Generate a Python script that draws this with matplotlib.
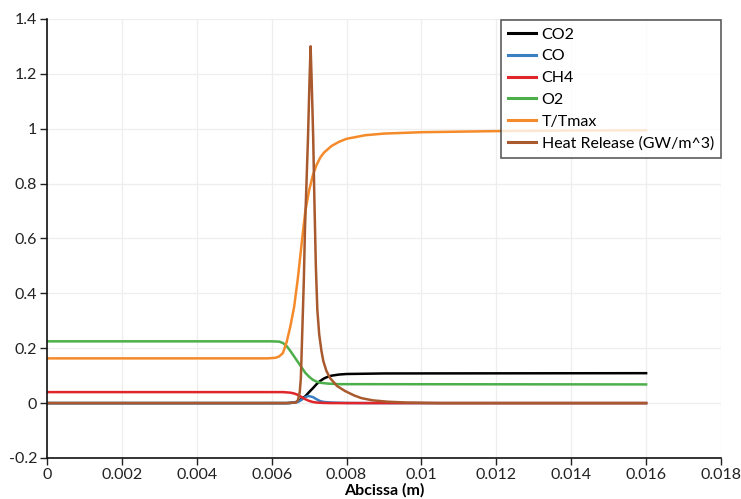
import matplotlib
matplotlib.use("Agg")
import matplotlib.pyplot as plt

# Flame profile along the abscissa (m)
x_co2 = [0.0, 0.0064, 0.0066, 0.0067, 0.0068, 0.0069, 0.0070, 0.0071, 0.0072, 0.0073, 0.0074,
         0.0075, 0.0076, 0.0078, 0.0080, 0.0090, 0.016]
co2 = [0.0, 0.0, 0.002, 0.006, 0.015, 0.025, 0.040, 0.054, 0.069, 0.081, 0.090,
       0.096, 0.100, 0.104, 0.106, 0.108, 0.109]

x_co = [0.0, 0.0065, 0.0067, 0.0068, 0.0069, 0.00698, 0.0071, 0.0072, 0.0073, 0.0074, 0.0076,
        0.0080, 0.0085, 0.016]
co = [0.0, 0.0, 0.004, 0.012, 0.022, 0.026, 0.022, 0.014, 0.007, 0.004, 0.002,
      0.0005, 0.0, 0.0]

x_ch4 = [0.0, 0.0063, 0.0065, 0.0066, 0.0067, 0.0068, 0.0069, 0.0070, 0.0071, 0.0072, 0.0074,
         0.0076, 0.016]
ch4 = [0.040, 0.040, 0.038, 0.035, 0.030, 0.022, 0.014, 0.008, 0.004, 0.002, 0.0005,
       0.0, 0.0]

x_o2 = [0.0, 0.0060, 0.0062, 0.0063, 0.0064, 0.0065, 0.0066, 0.0067, 0.0068, 0.0069, 0.0070,
        0.0071, 0.0072, 0.0073, 0.0075, 0.0078, 0.016]
o2 = [0.225, 0.225, 0.224, 0.219, 0.208, 0.190, 0.170, 0.150, 0.130, 0.110, 0.096,
      0.085, 0.078, 0.074, 0.071, 0.069, 0.068]

x_t = [0.0, 0.0059, 0.0061, 0.0062, 0.0063, 0.0064, 0.0065, 0.0066, 0.0067, 0.0068, 0.0069,
       0.0070, 0.0071, 0.0072, 0.0073, 0.0074, 0.0076, 0.0078, 0.0080, 0.0085, 0.0090,
       0.0100, 0.0110, 0.0120, 0.0140, 0.016]
t_norm = [0.163, 0.163, 0.165, 0.170, 0.182, 0.222, 0.280, 0.350, 0.455, 0.580, 0.700,
          0.775, 0.830, 0.868, 0.895, 0.913, 0.937, 0.952, 0.963, 0.976, 0.982,
          0.987, 0.989, 0.991, 0.993, 0.994]

x_hr = [0.0, 0.0064, 0.00665, 0.0067, 0.00675, 0.00678, 0.00682, 0.00686, 0.00689, 0.00693,
        0.00697, 0.00701, 0.00704, 0.00707, 0.00711, 0.00714, 0.00718, 0.00722, 0.00727,
        0.00733, 0.00738, 0.00746, 0.00756, 0.00775, 0.00796, 0.0082, 0.0084, 0.0087,
        0.0091, 0.0096, 0.0105, 0.016]
heat_release = [0.0, 0.0, 0.002, 0.010, 0.040, 0.090, 0.270, 0.450, 0.636, 0.800,
                0.964, 1.170, 1.300, 1.170, 0.964, 0.750, 0.500, 0.340, 0.250,
                0.190, 0.153, 0.118, 0.091, 0.062, 0.044, 0.028, 0.018, 0.010,
                0.005, 0.002, 0.0, 0.0]

series = [
    ("CO2", x_co2, co2, "#000000"),
    ("CO", x_co, co, "#3a7fc1"),
    ("CH4", x_ch4, ch4, "#e0262b"),
    ("O2", x_o2, o2, "#4caf4a"),
    ("T/Tmax", x_t, t_norm, "#f58a2a"),
    ("Heat Release (GW/m^3)", x_hr, heat_release, "#a8592d"),
]

x_ticks = [0, 0.002, 0.004, 0.006, 0.008, 0.01, 0.012, 0.014, 0.016, 0.018]
x_tick_labels = ["0", "0.002", "0.004", "0.006", "0.008", "0.01", "0.012", "0.014", "0.016", "0.018"]
y_ticks = [-0.2, 0, 0.2, 0.4, 0.6, 0.8, 1, 1.2, 1.4]
y_tick_labels = ["-0.2", "0", "0.2", "0.4", "0.6", "0.8", "1", "1.2", "1.4"]

plt.rcParams["font.family"] = ["Lato", "DejaVu Sans"]

fig = plt.figure(figsize=(7.41, 4.99), dpi=100)
ax = fig.add_axes([0.0634, 0.0822, 0.9096, 0.880])

for label, xs, ys, color in series:
    ax.plot(xs, ys, color=color, lw=1.8, label=label, solid_joinstyle="round")

ax.set_xlim(0, 0.018)
ax.set_ylim(-0.2, 1.4)
ax.set_xticks(x_ticks)
ax.set_xticklabels(x_tick_labels)
ax.set_yticks(y_ticks)
ax.set_yticklabels(y_tick_labels)
ax.tick_params(axis="both", direction="out", length=5, width=1, labelsize=11.5,
               colors="#222222", pad=2)
ax.grid(True, color="#eeeeee", lw=0.9)
ax.set_axisbelow(True)

for side in ("top", "right"):
    ax.spines[side].set_visible(False)
for side in ("left", "bottom"):
    ax.spines[side].set_color("#111111")
    ax.spines[side].set_linewidth(1.2)

ax.set_xlabel("Abcissa (m)", fontsize=11.5, fontweight="bold", labelpad=1)

leg = ax.legend(loc="upper right", bbox_to_anchor=(1.0, 0.997), fontsize=11.5,
                frameon=True, fancybox=False, edgecolor="#333333",
                handlelength=1.75, handletextpad=0.35, borderpad=0.45,
                labelspacing=0.48, borderaxespad=0.0)
leg.get_frame().set_linewidth(1.2)
for line in leg.get_lines():
    line.set_linewidth(2.2)

fig.savefig("out.png", dpi=100)
